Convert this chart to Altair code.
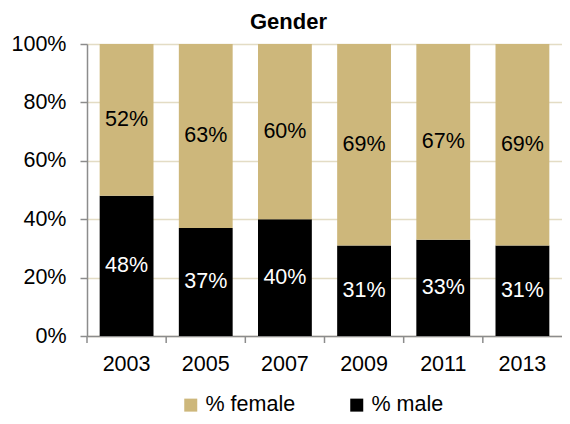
import altair as alt
import pandas as pd

years = ["2003", "2005", "2007", "2009", "2011", "2013"]
female = [52, 63, 60, 69, 67, 69]
male = [48, 37, 40, 31, 33, 31]
series_names = ["% female", "% male"]
series_colors = ["#CDB77B", "#000000"]
y_ticks = [0, 20, 40, 60, 80, 100]

rows = []
for i, yr in enumerate(years):
    rows.append({"year": yr, "series": "% male", "value": male[i], "ord": 0})
    rows.append({"year": yr, "series": "% female", "value": female[i], "ord": 1})
df = pd.DataFrame(rows)
tick_df = pd.DataFrame({"year": years})

FONT = "Liberation Sans"
GRAY = "#8C8C8C"
GRID = "#E3DCC4"
FS = 21.5

x_scale = alt.Scale(paddingInner=0, paddingOuter=0)

base = alt.Chart(df).transform_stack(
    stack="value", groupby=["year"], as_=["y0", "y1"],
    sort=[alt.SortField("ord", order="ascending")]
).transform_calculate(
    mid="(datum.y0 + datum.y1) / 2",
    label="datum.value + '%'"
)

bars = base.mark_bar(width=alt.RelativeBandSize(0.68)).encode(
    x=alt.X("year:N", sort=years, scale=x_scale,
            axis=alt.Axis(title=None, ticks=False, labelFontSize=FS, labelColor="black",
                          labelFont=FONT, labelPadding=17, labelAngle=0,
                          domainColor=GRAY, domainWidth=1.5, grid=False)),
    y=alt.Y("y0:Q", scale=alt.Scale(domain=[0, 100]),
            axis=alt.Axis(title=None, values=y_ticks, labelExpr="datum.value + '%'",
                          labelFontSize=FS, labelFont=FONT, labelColor="black",
                          labelPadding=14, tickSize=7, tickColor=GRAY, tickWidth=1.5,
                          domainColor=GRAY, domainWidth=1.5,
                          gridColor=GRID, gridWidth=1.5)),
    y2="y1:Q",
    color=alt.Color("series:N",
                    scale=alt.Scale(domain=series_names, range=series_colors),
                    legend=alt.Legend(title=None, orient="none", legendX=93, legendY=350,
                                      direction="horizontal", columns=2,
                                      symbolType="square", symbolSize=169,
                                      symbolStrokeWidth=0, labelFontSize=FS,
                                      labelFont=FONT, labelColor="black",
                                      labelOffset=4, columnPadding=50)),
)

labels = base.mark_text(fontSize=FS, font=FONT).encode(
    x=alt.X("year:N", sort=years, scale=x_scale),
    y=alt.Y("mid:Q"),
    text="label:N",
    color=alt.condition(alt.datum.series == "% male", alt.value("white"), alt.value("black")),
)

ticks = alt.Chart(tick_df).mark_rule(color=GRAY, strokeWidth=1.5).encode(
    x=alt.X("year:N", sort=years, scale=x_scale, bandPosition=0),
    y=alt.value(292),
    y2=alt.value(299),
)

chart = alt.layer(bars, labels, ticks).properties(
    width=475,
    height=292,
    padding={"left": 79, "top": 36, "right": 0, "bottom": 82},
    autosize=alt.AutoSizeParams(type="none"),
    title=alt.TitleParams("Gender", fontSize=22, fontWeight="bold", font=FONT,
                          color="black", anchor="middle", dx=-36, dy=5),
).configure_view(stroke=None).configure(font=FONT)

chart.save("out.html", embed_options={"renderer": "svg", "actions": False})
